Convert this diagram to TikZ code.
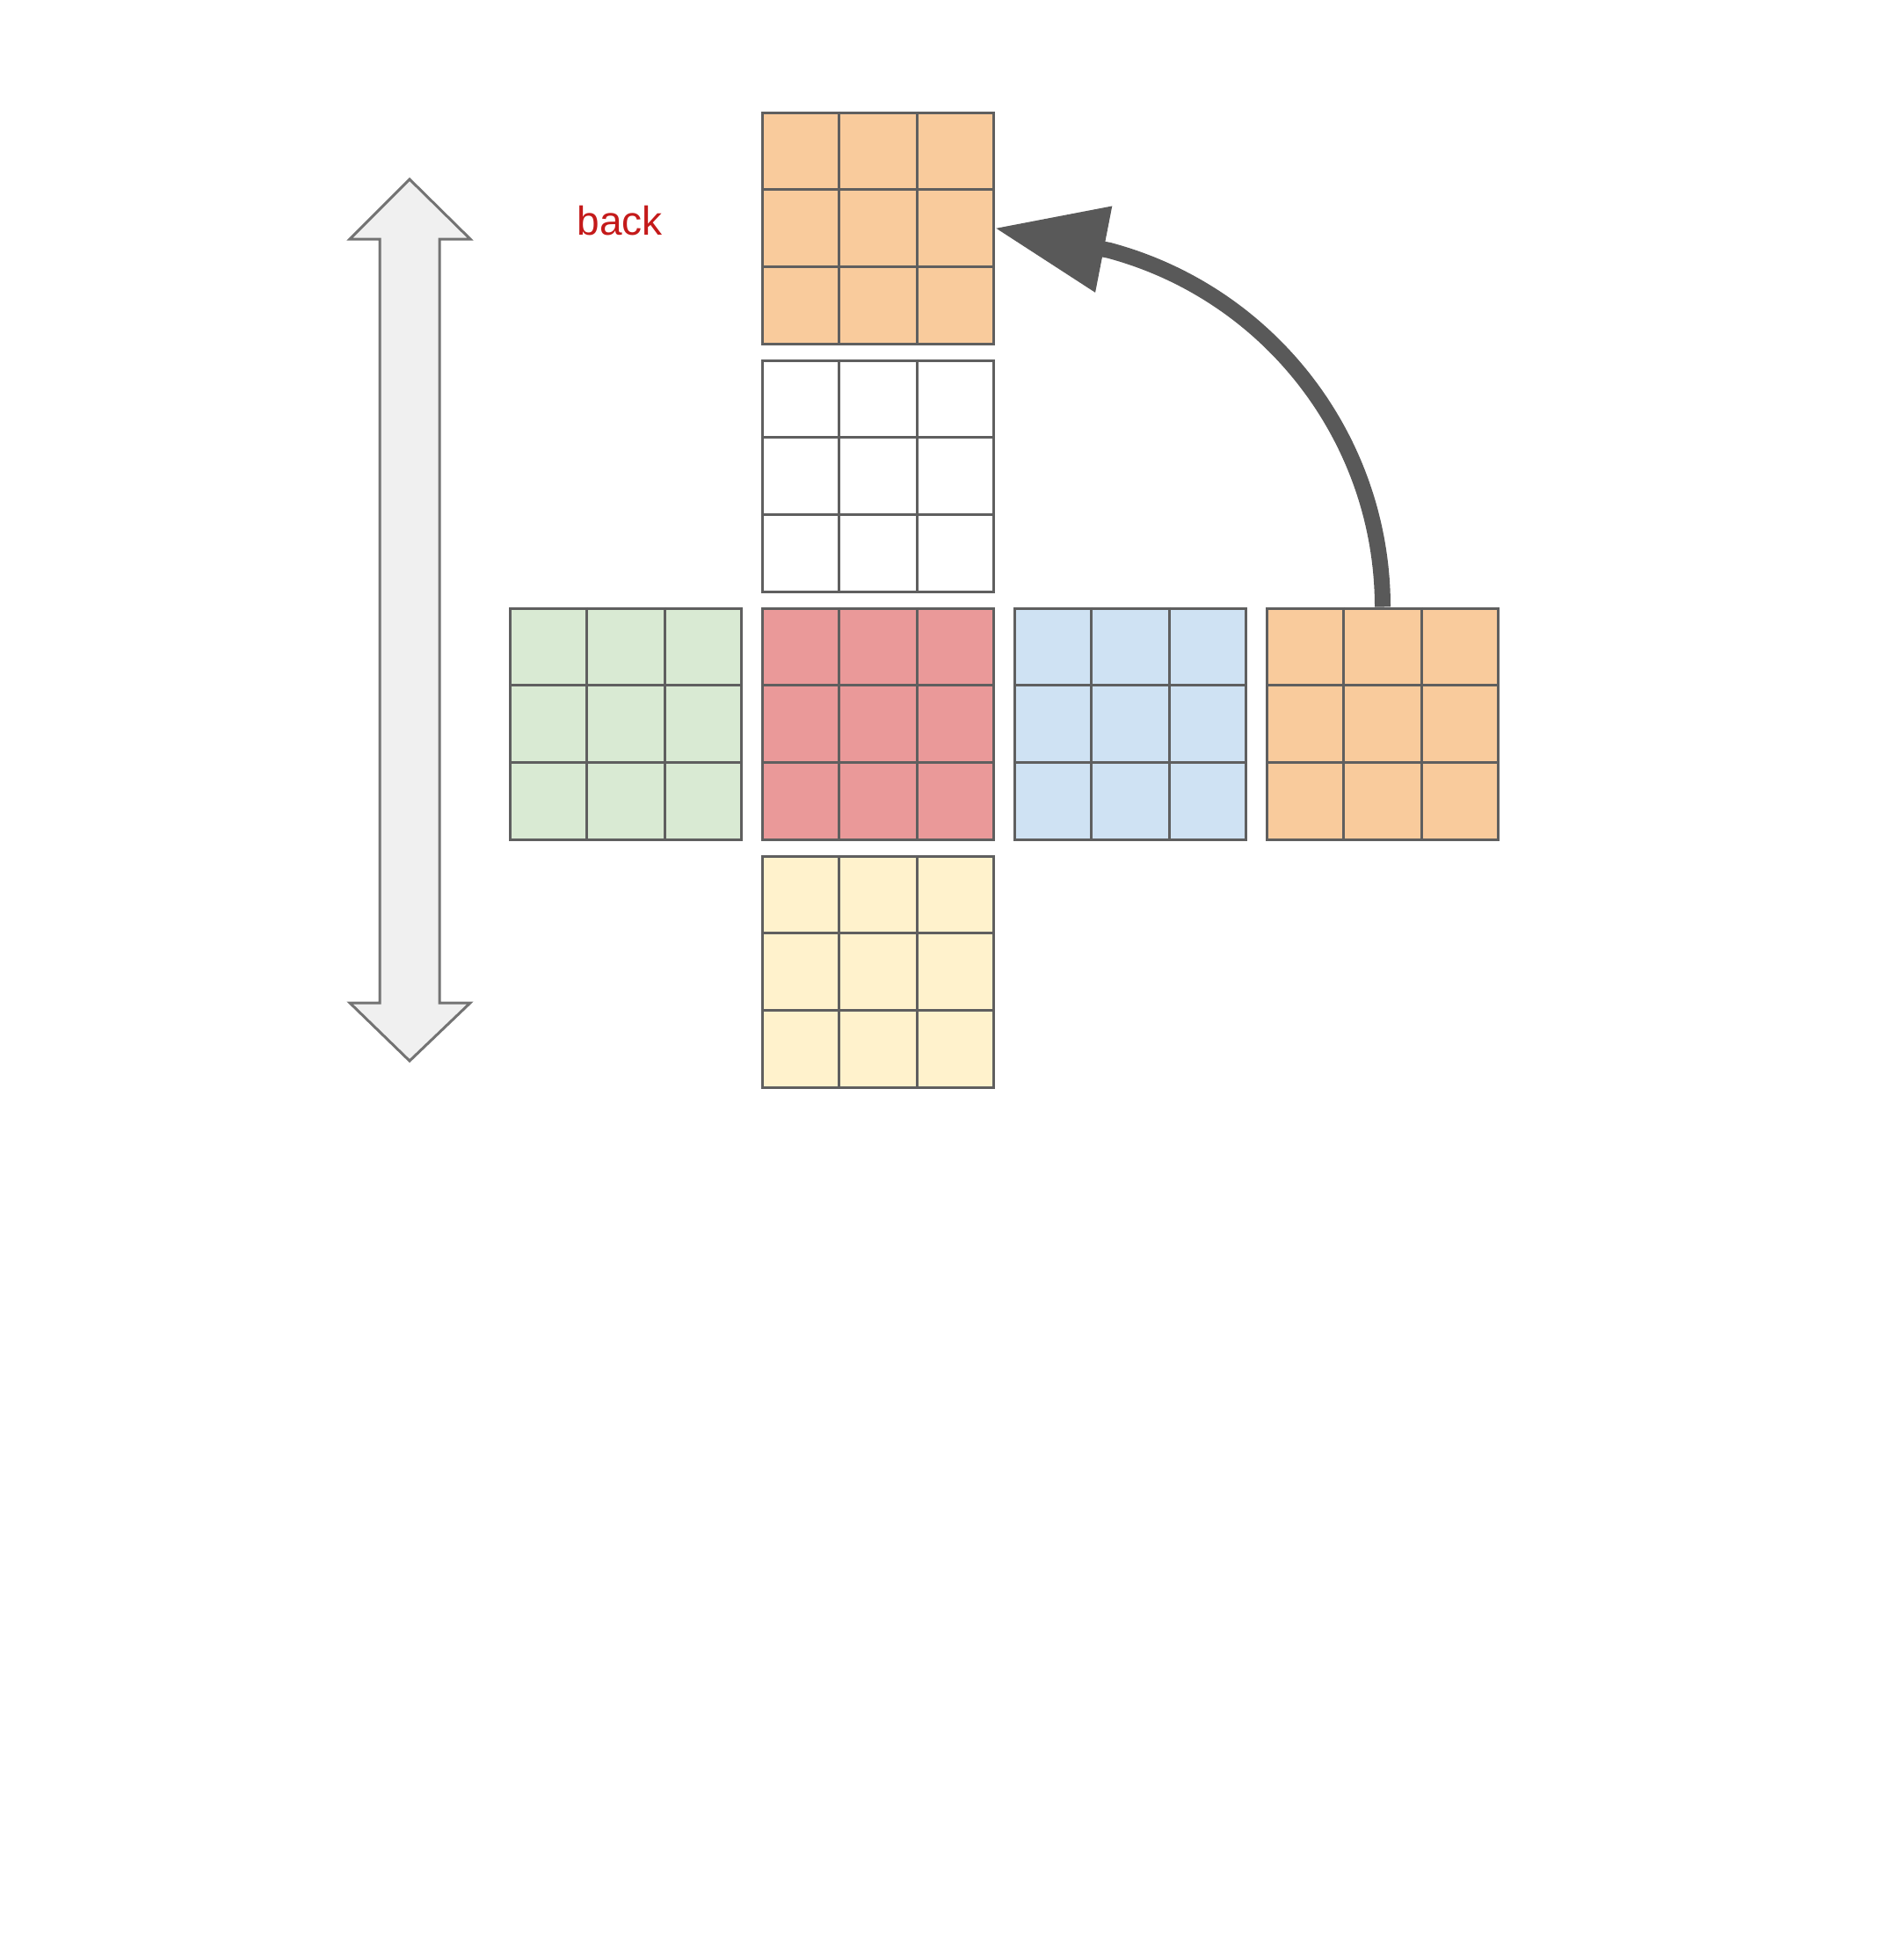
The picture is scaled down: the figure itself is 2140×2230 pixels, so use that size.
\documentclass[tikz,border=0pt]{standalone}
\usepackage{fontspec}
\setmainfont{Liberation Sans}
\usetikzlibrary{positioning,calc,arrows.meta}
\definecolor{faceorange}{HTML}{F9CB9C}
\definecolor{facered}{HTML}{EA9999}
\definecolor{faceblue}{HTML}{CFE2F3}
\definecolor{facegreen}{HTML}{D9EAD3}
\definecolor{faceyellow}{HTML}{FFF2CC}
\definecolor{gridgray}{HTML}{5F5F5F}
\definecolor{turngray}{HTML}{595959}
\definecolor{labelred}{HTML}{C41A1A}
\tikzset{
    face/.style = {draw=gridgray, rectangle, line width=3pt,
        minimum size=263pt, inner sep=0pt},
    gridline/.style = {draw=gridgray, line width=3pt},
    turn/.style = {draw=turngray, line width=18pt,
        -{Triangle[length=126pt,width=95pt]}},
    bigarrow/.style = {draw=gray!110, fill=gray!12, line width=3pt, line join=miter}
}

\begin{document}
\begin{tikzpicture}[x=1pt, y=-1pt, node distance=287pt]
    \useasboundingbox (0,0) rectangle (2140,2230);
        \node [face, fill=facered] (front) at (999,823.5) {};
        \node [face, fill=facegreen, left of=front] (left) {};
        \node [face, fill=faceblue, right of=front] (right) {};
        \node [face, fill=faceorange, right of=right] (backr) {};
        \node [face, fill=white, above of=front, node distance=282pt] (up) {};
        \node [face, fill=faceorange, above of=up, node distance=282pt] (back) {};
        \node [face, fill=faceyellow, below of=front, node distance=282pt] (down) {};
        \foreach \f in {back,up,left,front,right,backr,down}{
            \foreach \i in {1,2}{
                \draw [gridline] ($(\f.north west)!\i/3!(\f.north east)$) -- ($(\f.south west)!\i/3!(\f.south east)$);
                \draw [gridline] ($(\f.north west)!\i/3!(\f.south west)$) -- ($(\f.north east)!\i/3!(\f.south east)$);
            }
        }
        \node [anchor=base, text=labelred, font=\fontsize{46}{50}\selectfont] (backlabel) at (705,267) {back};
        \draw [turn] (backr.north) arc[start angle=0, end angle=75, radius=420pt] -- (back.east);
        % up/down arrow
        \draw [bigarrow] (466,204) -- (535,272) -- (500,272) -- (500,1141) -- (535,1141)
            -- (466,1207) -- (398,1141) -- (432,1141) -- (432,272) -- (398,272) -- cycle;
\end{tikzpicture}
\end{document}
